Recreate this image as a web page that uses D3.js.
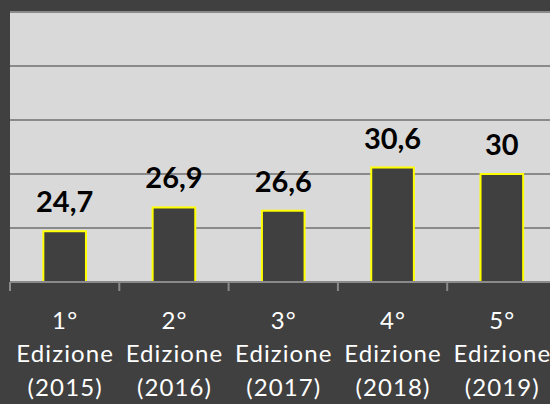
<!DOCTYPE html>
<html>
<head>
<meta charset="utf-8">
<script src="https://cdn.jsdelivr.net/npm/d3@7"></script>
<style>
  html, body { margin: 0; padding: 0; background: #404040; }
  svg { display: block; }
</style>
</head>
<body>
<svg id="chart" width="550" height="404"></svg>
<script>
const editions = ["1°", "2°", "3°", "4°", "5°"];
const years = ["(2015)", "(2016)", "(2017)", "(2018)", "(2019)"];
const categories = ["1° Edizione (2015)", "2° Edizione (2016)", "3° Edizione (2017)", "4° Edizione (2018)", "5° Edizione (2019)"];
const values = [24.7, 26.9, 26.6, 30.6, 30];
const labels = ["24,7", "26,9", "26,6", "30,6", "30"];
const yTicks = [20, 25, 30, 35, 40, 45];

const W = 550, H = 404;
const svg = d3.select("#chart");

svg.append("rect").attr("x", 0).attr("y", 0).attr("width", W).attr("height", H).attr("fill", "#404040");

const x = d3.scaleBand().domain(categories).range([10, 556.5]).padding(0);
const y = d3.scaleLinear().domain([20, 45]).range([282, 12]);

// plot area
svg.append("rect")
  .attr("x", 10).attr("y", y(45))
  .attr("width", W - 10).attr("height", y(20) - y(45))
  .attr("fill", "#d9d9d9");

// gridlines
svg.append("g").selectAll("line").data(yTicks.slice(1)).join("line")
  .attr("x1", 10).attr("x2", W)
  .attr("y1", d => y(d)).attr("y2", d => y(d))
  .attr("stroke", "#8a8a8a").attr("stroke-width", 2);

// bars
const bw = x.bandwidth() * 0.39;
svg.append("g").selectAll("rect").data(values).join("rect")
  .attr("x", (d, i) => x(categories[i]) + x.bandwidth() / 2 - bw / 2)
  .attr("y", d => y(d))
  .attr("width", bw)
  .attr("height", d => y(20) - y(d))
  .attr("fill", "#404040")
  .attr("stroke", "#ffff00")
  .attr("stroke-width", 2);

// axis line
svg.append("line")
  .attr("x1", 10).attr("x2", W)
  .attr("y1", y(20)).attr("y2", y(20))
  .attr("stroke", "#8a8a8a").attr("stroke-width", 2);

// ticks at band boundaries
const tickPos = categories.map(c => x(c)).concat([x(categories[categories.length - 1]) + x.bandwidth()]);
svg.append("g").selectAll("line").data(tickPos).join("line")
  .attr("x1", d => d).attr("x2", d => d)
  .attr("y1", y(20)).attr("y2", y(20) + 9)
  .attr("stroke", "#8a8a8a").attr("stroke-width", 2);

// data labels
svg.append("g").selectAll("text").data(values).join("text")
  .attr("x", (d, i) => x(categories[i]) + x.bandwidth() / 2)
  .attr("y", d => y(d) - 19)
  .attr("text-anchor", "middle")
  .attr("font-family", "Lato, 'Open Sans', sans-serif")
  .attr("font-weight", "bold")
  .attr("font-size", 29)
  .attr("fill", "#000")
  .text((d, i) => labels[i]);

// category labels
const catG = svg.append("g").selectAll("text").data(categories).join("text")
  .attr("text-anchor", "middle")
  .attr("font-family", "Lato, 'Open Sans', sans-serif")
  .attr("font-size", 24)
  .attr("letter-spacing", 1.1)
  .attr("fill", "#ffffff");
const cx = d => x(d) + x.bandwidth() / 2 + 0.5;
catG.append("tspan").attr("x", cx).attr("y", 329).text((d, i) => editions[i]);
catG.append("tspan").attr("x", cx).attr("y", 362).text("Edizione");
catG.append("tspan").attr("x", cx).attr("y", 396).text((d, i) => years[i]);
</script>
</body>
</html>
